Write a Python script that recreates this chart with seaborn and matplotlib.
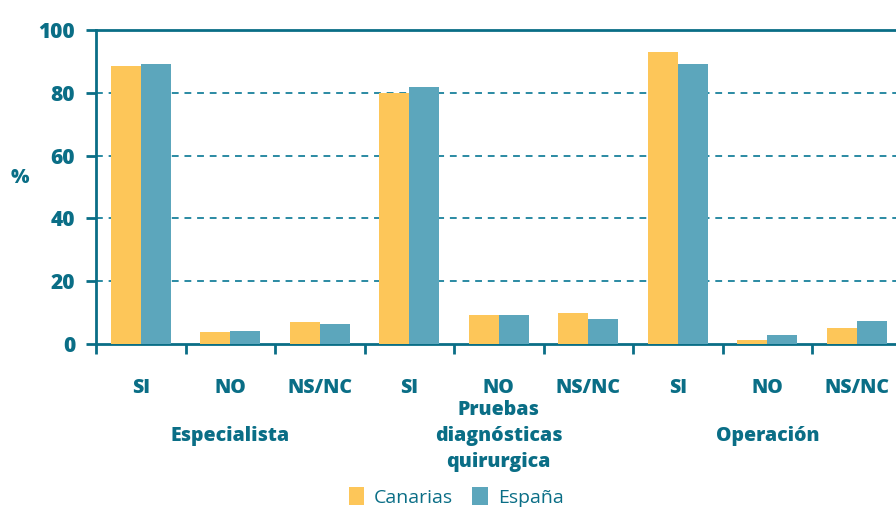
import matplotlib
matplotlib.use("Agg")
import matplotlib.pyplot as plt
import matplotlib.transforms as mtransforms
from matplotlib.patches import Patch
import seaborn as sns
import pandas as pd

# Survey answers per question group
groups = ["Especialista", "Pruebas\ndiagnósticas\nquirurgica", "Operación"]
answers = ["SI", "NO", "NS/NC"]
regions = ["Canarias", "España"]
canarias = [88.5, 3.9, 7.1, 79.8, 9.3, 10.0, 92.9, 1.4, 5.2]
espana = [89.1, 4.2, 6.5, 81.8, 9.3, 8.0, 89.1, 3.0, 7.4]
yticks = [0, 20, 40, 60, 80, 100]

dark = "#0a6e86"
palette = {"Canarias": "#fdc659", "España": "#5ca6bc"}

keys = [f"{g}|{a}" for g in groups for a in answers]
rows = []
for k, c, e in zip(keys, canarias, espana):
    rows.append({"pos": k, "region": "Canarias", "pct": c})
    rows.append({"pos": k, "region": "España", "pct": e})
df = pd.DataFrame(rows)

sns.set_theme(style="white")
plt.rcParams["font.family"] = ["Open Sans", "DejaVu Sans"]

W, H = 896, 507
fig = plt.figure(figsize=(W / 100, H / 100), dpi=100)
left, right, top, bottom = 96, 901.5, 29.7, 344.3
ax = fig.add_axes([left / W, 1 - bottom / H, (right - left) / W, (bottom - top) / H])

sns.barplot(data=df, x="pos", y="pct", hue="region", order=keys, hue_order=regions,
            palette=palette, width=0.67, gap=0, saturation=1, legend=False,
            edgecolor="none", linewidth=0, zorder=3, ax=ax)

ax.set_xlim(-0.5, len(keys) - 0.5)
ax.set_ylim(0, 100)
ax.set_xlabel("")
ax.set_ylabel("")

for y in [20, 40, 60, 80]:
    ax.axhline(y, color="#2a8aa3", lw=1.4, ls=(0, (3.5, 3)), zorder=1)

for side in ["left", "top", "bottom"]:
    ax.spines[side].set_color(dark)
    ax.spines[side].set_linewidth(2)
ax.spines["right"].set_visible(False)

ax.set_yticks(yticks)
ax.set_yticklabels([str(v) for v in yticks], fontsize=15, fontweight="heavy", color=dark)
ax.tick_params(axis="y", length=7, width=2, color=dark, pad=8, left=True)

ax.set_xticks(range(len(keys)))
ax.set_xticklabels([a for g in groups for a in answers], fontsize=14,
                   fontweight="heavy", color=dark)
ax.tick_params(axis="x", which="major", length=0, pad=24)
ax.set_xticks([i - 0.5 for i in range(len(keys) + 1)], minor=True)
ax.tick_params(axis="x", which="minor", length=7, width=2, color=dark, bottom=True)

ax.text(20 / W, 1 - 178 / H, "%", transform=fig.transFigure,
        fontsize=14, fontweight="heavy", color=dark, ha="center", va="center")

trans = mtransforms.blended_transform_factory(ax.transData, fig.transFigure)
for i, g in enumerate(groups):
    ax.text(i * 3 + 1, 1 - 436 / H, g, transform=trans, ha="center", va="center",
            fontsize=14, fontweight="heavy", color=dark, linespacing=1.4)

handles = [Patch(facecolor=palette[r], edgecolor="none", label=r) for r in regions]
leg = fig.legend(handles=handles, loc="center", bbox_to_anchor=(456 / W, 1 - 497 / H),
                 ncol=2, frameon=False, fontsize=14, handlelength=0.8, handleheight=1.0,
                 handletextpad=0.5, columnspacing=1.0)
for t in leg.get_texts():
    t.set_color(dark)

fig.savefig("out.png", dpi=100)
